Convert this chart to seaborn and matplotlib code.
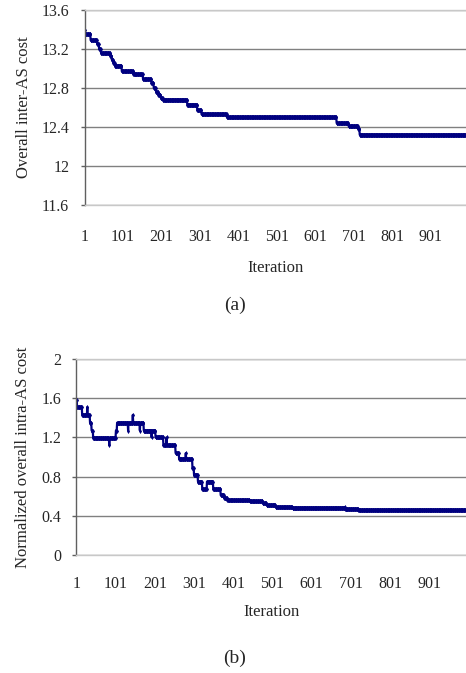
import numpy as np
import pandas as pd
import matplotlib
matplotlib.use("Agg")
import matplotlib.pyplot as plt
import seaborn as sns

sns.set_style("white")
plt.rcParams['font.family'] = ['Liberation Serif', 'DejaVu Serif']

# (a) overall inter-AS cost: iteration where each step starts, and its level
inter_start = [1, 2, 17, 34, 39, 44, 68, 72, 76, 80, 98, 128, 153, 175, 181, 187,
               193, 199, 205, 268, 294, 305, 371, 656, 687, 712, 716]
inter_cost = [13.40, 13.35, 13.29, 13.25, 13.20, 13.16, 13.13, 13.09, 13.06, 13.03,
              12.97, 12.94, 12.89, 12.85, 12.80, 12.76, 12.73, 12.70, 12.68, 12.63,
              12.57, 12.53, 12.50, 12.44, 12.41, 12.38, 12.32]

# (b) normalized overall intra-AS cost
intra_start = [1, 3, 16, 29, 30, 36, 40, 44, 85, 86, 102, 105, 133, 134, 145, 146,
               163, 164, 173, 193, 194, 203, 223, 231, 232, 254, 263, 280, 281, 297,
               301, 311, 322, 334, 350, 369, 378, 386, 443, 476, 486, 509, 552, 685,
               686, 720]
intra_cost = [1.58, 1.51, 1.43, 1.51, 1.43, 1.35, 1.27, 1.195, 1.12, 1.195, 1.27,
              1.35, 1.27, 1.35, 1.43, 1.35, 1.27, 1.35, 1.27, 1.20, 1.27, 1.20, 1.12,
              1.20, 1.12, 1.04, 0.98, 1.04, 0.98, 0.89, 0.82, 0.75, 0.67, 0.75, 0.67,
              0.61, 0.58, 0.557, 0.55, 0.53, 0.51, 0.49, 0.482, 0.49, 0.47, 0.46]

n_iter = 1000
x_ticks = list(range(1, 1001, 100))
inter_yticks = [11.6, 12, 12.4, 12.8, 13.2, 13.6]
inter_ylabels = ["11.6", "12", "12.4", "12.8", "13.2", "13.6"]
intra_yticks = [0, 0.4, 0.8, 1.2, 1.6, 2]
intra_ylabels = ["0", "0.4", "0.8", "1.2", "1.6", "2"]


def expand(starts, values):
    # hold each read level until the next step
    lengths = np.diff(starts + [n_iter + 1])
    return pd.DataFrame({"Iteration": np.arange(1, n_iter + 1),
                         "cost": np.repeat(values, lengths)})


df_a = expand(inter_start, inter_cost)
df_b = expand(intra_start, intra_cost)

fig = plt.figure(figsize=(4.66, 6.73), dpi=100)
ax1 = fig.add_axes([84.5 / 466, 1 - 205 / 673, 1 - 84.5 / 466, 195 / 673])
ax2 = fig.add_axes([76.3 / 466, 1 - 555 / 673, 1 - 76.3 / 466, 196 / 673])

navy = "#000080"
setups = [
    (ax1, df_a, inter_yticks, inter_ylabels, "Overall inter-AS cost", 992, 17, 11),
    (ax2, df_b, intra_yticks, intra_ylabels, "Normalized overall intra-AS cost", 994, 15, 9),
]
for ax, df, yt, yl, ylab, xmax, xpad, lpad in setups:
    sns.lineplot(data=df, x="Iteration", y="cost", ax=ax, color=navy,
                 linewidth=1.6, marker="d", markersize=2.6, markeredgewidth=0)
    ax.set_xlim(1, xmax)
    ax.set_ylim(yt[0], yt[-1])
    ax.set_yticks(yt)
    ax.set_yticklabels(yl, fontsize=11.5)
    ax.set_xticks(x_ticks)
    ax.set_xticklabels([str(t) for t in x_ticks], fontsize=11.5)
    ax.tick_params(axis="x", length=0, pad=xpad)
    ax.tick_params(axis="y", length=3, width=1, color="#606060", pad=8, left=True)
    ax.grid(True, axis="y", color="#808080", linewidth=1)
    ax.set_axisbelow(True)
    ax.spines["right"].set_visible(False)
    ax.spines["top"].set_color("#c8c8c8")
    ax.spines["bottom"].set_color("#c8c8c8")
    ax.spines["left"].set_color("#606060")
    for s in ax.spines.values():
        s.set_linewidth(1)
    ax.set_xlabel("Iteration", fontsize=12, labelpad=lpad)
    ax.set_ylabel(ylab, fontsize=12, labelpad=7)

fig.text(235 / 466, 1 - 305 / 673, "(a)", ha="center", va="center", fontsize=14)
fig.text(235 / 466, 1 - 658 / 673, "(b)", ha="center", va="center", fontsize=14)

fig.savefig("out.png", dpi=100)
